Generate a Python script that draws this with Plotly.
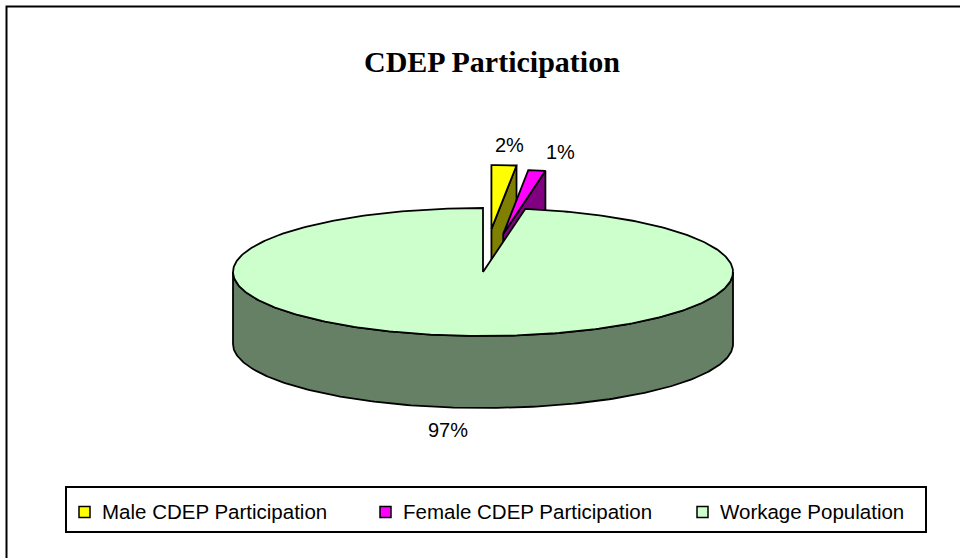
import numpy as np
import plotly.graph_objects as go

# ---- data ----
categories = ["Male CDEP Participation", "Female CDEP Participation", "Workage Population"]
values = [1.6, 1.1, 97.3]
title_text = "CDEP Participation"

# ---- style ----
top_colors = ["#FFFF00", "#FF00FF", "#CCFFCC"]
side_colors = ["#808000", "#800080", "#668066"]
pull = [0.67, 0.60, 0.0]
label_shift = [(5, 0), (21, 1), (-12, 2)]

W, H = 960, 558
CX, CY = 483, 272      # centre of top face (px)
A, B = 250, 64         # ellipse semi axes (px)
DEPTH = 72             # thickness (px)
LINE = dict(color="black", width=1.8)

total = float(sum(values))
fracs = [v / total for v in values]
starts = np.concatenate([[0.0], np.cumsum(fracs)[:-1]]) * 2 * np.pi
ends = starts + np.array(fracs) * 2 * np.pi


def pt(theta, r, z, off):
    return (CX + off[0] + r * A * np.sin(theta),
            CY + off[1] - r * B * np.cos(theta) + z * DEPTH)


fig = go.Figure()


def poly(xs, ys, color):
    fig.add_trace(go.Scatter(x=list(xs) + [xs[0]], y=list(ys) + [ys[0]], mode="lines",
                             fill="toself", fillcolor=color, line=LINE,
                             hoverinfo="skip", showlegend=False))


label_pos = []
for i, (s, e) in enumerate(zip(starts, ends)):
    mid = (s + e) / 2
    off = (pull[i] * A * np.sin(mid), -pull[i] * B * np.cos(mid))
    if np.sin(e) > 1e-6:
        p1 = pt(e, 0, 0, off); p2 = pt(e, 1, 0, off); p3 = pt(e, 1, 1, off); p4 = pt(e, 0, 1, off)
        poly([p1[0], p2[0], p3[0], p4[0]], [p1[1], p2[1], p3[1], p4[1]], side_colors[i])
    if np.sin(s) < -1e-6:
        p1 = pt(s, 0, 0, off); p2 = pt(s, 1, 0, off); p3 = pt(s, 1, 1, off); p4 = pt(s, 0, 1, off)
        poly([p1[0], p2[0], p3[0], p4[0]], [p1[1], p2[1], p3[1], p4[1]], side_colors[i])
    lo, hi = max(s, np.pi / 2), min(e, 3 * np.pi / 2)
    if hi > lo:
        th = np.linspace(lo, hi, 200)
        pts = [pt(t, 1, 0, off) for t in th] + [pt(t, 1, 1, off) for t in th[::-1]]
        poly([p[0] for p in pts], [p[1] for p in pts], side_colors[i])
    th = np.linspace(s, e, max(3, int(400 * fracs[i])))
    pts = [pt(0, 0, 0, off)] + [pt(t, 1, 0, off) for t in th]
    poly([p[0] for p in pts], [p[1] for p in pts], top_colors[i])
    ax, ay = pt(mid, 1, 0, off)
    dx, dy = np.sin(mid), -np.cos(mid)
    n = np.hypot(dx, dy)
    if np.cos(mid) < 0:
        ay += DEPTH
    label_pos.append((ax + 20 * dx / n + label_shift[i][0], ay + 20 * dy / n + label_shift[i][1]))

for i, (lx, ly) in enumerate(label_pos):
    fig.add_annotation(x=lx, y=ly, text=f"{round(fracs[i] * 100)}%", showarrow=False,
                       font=dict(family="Liberation Sans, Arial", size=20, color="black"),
                       xanchor="center", yanchor="middle")

# title
fig.add_annotation(x=492, y=61, text=f"<b>{title_text}</b>", showarrow=False,
                   font=dict(family="Liberation Serif, Times New Roman", size=30, color="black"),
                   xanchor="center", yanchor="middle")

# chart frame (extends past the visible window on right/bottom)
fig.add_shape(type="rect", x0=6.5, y0=6.5, x1=985, y1=580, line=dict(color="black", width=2))

# legend (drawn)
leg_box = (66, 487, 926, 532)
leg_x = [79, 380, 697]
leg_y = 512
MK = 11
fig.add_shape(type="rect", x0=leg_box[0], y0=leg_box[1], x1=leg_box[2], y1=leg_box[3],
              line=dict(color="black", width=2))
for i, name in enumerate(categories):
    fig.add_shape(type="rect", x0=leg_x[i], y0=leg_y - MK / 2, x1=leg_x[i] + MK, y1=leg_y + MK / 2,
                  fillcolor=top_colors[i], line=dict(color="black", width=1.5))
    fig.add_annotation(x=leg_x[i] + 21, y=leg_y - 1, text=name, showarrow=False,
                       font=dict(family="Liberation Sans, Arial", size=20.5, color="black"),
                       xanchor="left", yanchor="middle")

fig.update_layout(
    width=W, height=H, margin=dict(l=0, r=0, t=0, b=0),
    paper_bgcolor="white", plot_bgcolor="white",
    xaxis=dict(range=[0, W], visible=False, fixedrange=True),
    yaxis=dict(range=[H, 0], visible=False, fixedrange=True),
    showlegend=False,
)

fig.write_html("out.html", post_script="document.body.style.margin='0';",
               config={"displayModeBar": False})
